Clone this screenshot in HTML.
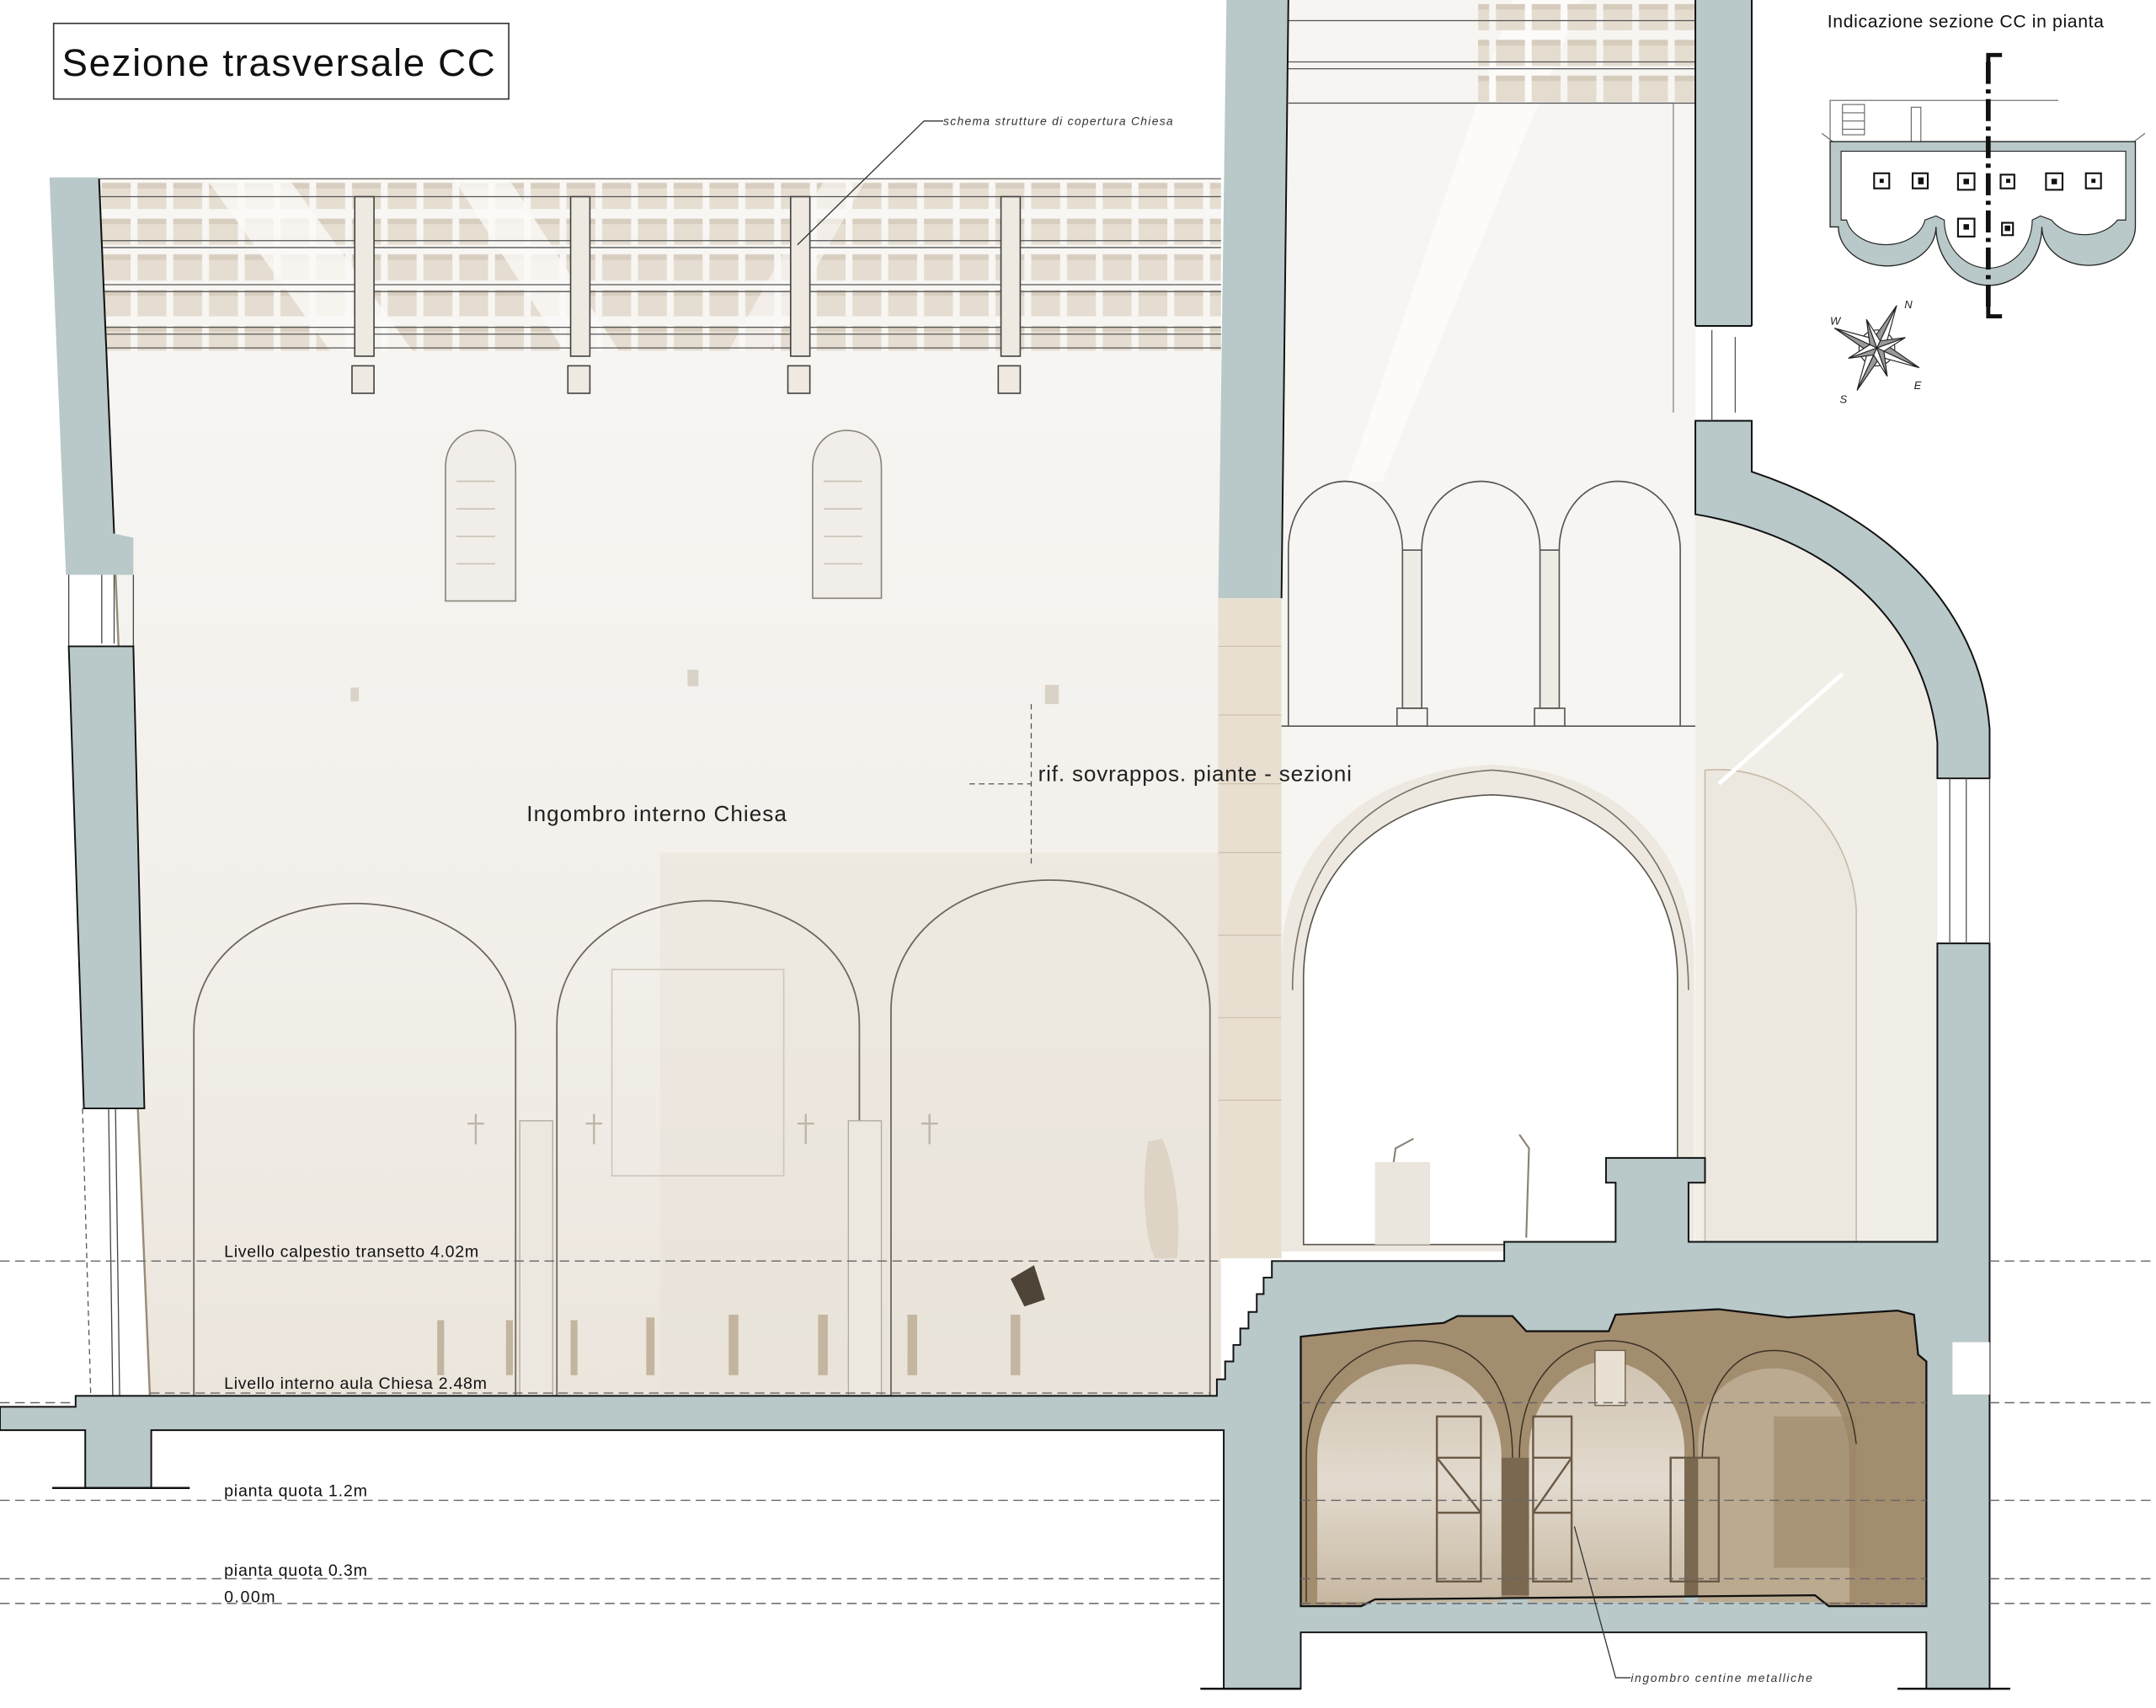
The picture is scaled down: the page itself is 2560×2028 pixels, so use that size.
<!DOCTYPE html>
<html><head><meta charset="utf-8"><style>
html,body{margin:0;padding:0;background:#fff;}
svg{display:block;}
text{font-family:"Liberation Sans",sans-serif;}
</style></head><body>
<svg width="2560" height="2028" viewBox="0 0 1568 1242" preserveAspectRatio="none" xmlns="http://www.w3.org/2000/svg">
<defs>
<pattern id="tiles" x="72" y="130" width="26" height="26" patternUnits="userSpaceOnUse">
<rect x="2" y="3" width="21" height="19" fill="#e2d9cb"/>
<rect x="2" y="3" width="21" height="4" fill="#d2c7b6"/>
</pattern>
<linearGradient id="church" x1="0" y1="0" x2="0" y2="1">
<stop offset="0" stop-color="#f8f7f4"/><stop offset="0.6" stop-color="#f3f0eb"/><stop offset="1" stop-color="#ebe5dc"/>
</linearGradient>
<linearGradient id="cryptIn" x1="0" y1="0" x2="0" y2="1">
<stop offset="0" stop-color="#cfc3b1"/><stop offset="0.5" stop-color="#e3dbcf"/><stop offset="1" stop-color="#c7b8a2"/>
</linearGradient>
</defs>

<!-- church interior -->
<polygon points="72,130 888,130 888,1015 109,1015" fill="url(#church)"/>
<rect x="480" y="620" width="408" height="395" fill="#e7e0d5" opacity="0.45"/>
<rect x="445" y="705" width="125" height="150" fill="none" stroke="#cfc7bb" stroke-width="1"/>
<rect x="72" y="130" width="816" height="125" fill="url(#tiles)" opacity="0.85"/>
<polygon points="150,130 210,130 300,255 240,255" fill="#fbfaf8" opacity="0.8"/>
<polygon points="330,130 370,130 450,255 410,255" fill="#fbfaf8" opacity="0.8"/>
<polygon points="600,130 630,130 560,255 530,255" fill="#fbfaf8" opacity="0.6"/>
<g stroke="#555" stroke-width="0.8">
<line x1="72" y1="130" x2="888" y2="130"/>
<line x1="72" y1="143" x2="888" y2="143"/>
<line x1="72" y1="175" x2="888" y2="175"/>
<line x1="72" y1="180" x2="888" y2="180"/>
<line x1="72" y1="207" x2="888" y2="207"/>
<line x1="72" y1="212" x2="888" y2="212"/>
<line x1="72" y1="238" x2="888" y2="238"/>
<line x1="72" y1="243" x2="888" y2="243"/>
<line x1="72" y1="253" x2="888" y2="253"/>
</g>
<g fill="#eee9e1" stroke="#444" stroke-width="1">
<rect x="258" y="143" width="14" height="116"/><rect x="256" y="266" width="16" height="20"/>
<rect x="415" y="143" width="14" height="116"/><rect x="413" y="266" width="16" height="20"/>
<rect x="575" y="143" width="14" height="116"/><rect x="573" y="266" width="16" height="20"/>
<rect x="728" y="143" width="14" height="116"/><rect x="726" y="266" width="16" height="20"/>
</g>
<!-- windows -->
<g fill="#f1eee9" stroke="#8a847a" stroke-width="1">
<path d="M324,437 L324,340 C324,322 336,313 349,313 C362,313 375,322 375,340 L375,437 Z"/>
<path d="M591,435 L591,340 C591,322 603,313 616,313 C629,313 641,322 641,340 L641,435 Z"/>
</g>
<g stroke="#c9c2b6" stroke-width="1">
<line x1="332" y1="350" x2="360" y2="350"/><line x1="332" y1="370" x2="360" y2="370"/><line x1="332" y1="390" x2="360" y2="390"/><line x1="332" y1="410" x2="360" y2="410"/>
<line x1="599" y1="350" x2="627" y2="350"/><line x1="599" y1="370" x2="627" y2="370"/><line x1="599" y1="390" x2="627" y2="390"/><line x1="599" y1="410" x2="627" y2="410"/>
</g>
<g fill="#d9d2c6"><rect x="255" y="500" width="6" height="10"/><rect x="500" y="487" width="8" height="12"/><rect x="760" y="498" width="10" height="14"/></g>
<!-- big arches -->
<g fill="none" stroke="#6d675e" stroke-width="1.1">
<path d="M141,1015 L141,750 C141,690 200,657 258,657 C316,657 375,690 375,750 L375,1015"/>
<path d="M405,1015 L405,745 C405,688 460,655 515,655 C570,655 625,688 625,745 L625,1015"/>
<path d="M648,1015 L648,735 C648,675 705,640 764,640 C823,640 880,675 880,735 L880,1015"/>
</g>
<g fill="#ece7df" stroke="#b0a99d" stroke-width="0.8">
<rect x="378" y="815" width="24" height="200"/>
<rect x="617" y="815" width="24" height="200"/>
</g>
<g stroke="#bdb5a8" stroke-width="1.5">
<line x1="346" y1="810" x2="346" y2="832"/><line x1="340" y1="817" x2="352" y2="817"/>
<line x1="432" y1="810" x2="432" y2="832"/><line x1="426" y1="817" x2="438" y2="817"/>
<line x1="586" y1="810" x2="586" y2="832"/><line x1="580" y1="817" x2="592" y2="817"/>
<line x1="676" y1="810" x2="676" y2="832"/><line x1="670" y1="817" x2="682" y2="817"/>
</g>
<!-- pews -->
<g fill="#b9a990" opacity="0.8">
<rect x="318" y="960" width="5" height="40"/><rect x="368" y="960" width="5" height="40"/><rect x="415" y="960" width="5" height="40"/><rect x="470" y="958" width="6" height="42"/><rect x="530" y="956" width="7" height="44"/><rect x="595" y="956" width="7" height="44"/><rect x="660" y="956" width="7" height="44"/><rect x="735" y="956" width="7" height="44"/>
</g>
<path d="M835,830 C830,860 832,900 840,915 L856,915 C860,880 852,840 845,828 Z" fill="#ddd4c6"/>
<path d="M735,930 L752,920 L760,945 L745,950 Z" fill="#4e4438"/>
<!-- left inner lines -->
<line x1="60" y1="806" x2="66" y2="1015" stroke="#555" stroke-width="0.8" stroke-dasharray="4,3"/>
<line x1="79" y1="806" x2="82" y2="1015" stroke="#444" stroke-width="0.8"/>
<line x1="84" y1="806" x2="87" y2="1015" stroke="#444" stroke-width="0.8"/>
<line x1="72" y1="130" x2="109" y2="1015" stroke="#9a8c78" stroke-width="1.5"/>
<g stroke="#444" stroke-width="0.8" fill="none">
<line x1="50" y1="418" x2="50" y2="470"/><line x1="74" y1="418" x2="74" y2="468"/><line x1="83" y1="418" x2="83" y2="468"/><line x1="97" y1="418" x2="97" y2="470"/>
</g>

<!-- transept strip -->
<rect x="886" y="435" width="46" height="480" fill="#e8dfd1"/>
<g stroke="#cdbfa9" stroke-width="0.7">
<line x1="886" y1="470" x2="932" y2="470"/><line x1="886" y1="520" x2="932" y2="520"/><line x1="886" y1="570" x2="932" y2="570"/><line x1="886" y1="620" x2="932" y2="620"/><line x1="886" y1="680" x2="932" y2="680"/><line x1="886" y1="740" x2="932" y2="740"/><line x1="886" y1="800" x2="932" y2="800"/>
</g>
<!-- tower interior -->
<rect x="932" y="0" width="301" height="910" fill="#f7f5f1"/>
<polygon points="1100,0 1150,0 1005,350 980,350" fill="#fcfbf9"/>
<rect x="1075" y="0" width="158" height="75" fill="url(#tiles)" opacity="0.9"/>
<g stroke="#555" stroke-width="0.8">
<line x1="937" y1="15" x2="1233" y2="15"/><line x1="937" y1="45" x2="1233" y2="45"/><line x1="937" y1="50" x2="1233" y2="50"/><line x1="937" y1="75" x2="1233" y2="75"/>
</g>
<line x1="1217" y1="75" x2="1217" y2="300" stroke="#777" stroke-width="0.7"/>
<!-- arcade -->
<g fill="none" stroke="#555" stroke-width="1">
<path d="M937,528 L937,400 C937,370 956,350 978,350 C1000,350 1020,370 1020,400"/>
<path d="M1034,400 C1034,370 1054,350 1077,350 C1100,350 1120,370 1120,400"/>
<path d="M1134,400 C1134,370 1154,350 1177,350 C1200,350 1222,370 1222,400 L1222,528"/>
<rect x="1020" y="400" width="14" height="115" fill="#efebe5"/><rect x="1016" y="515" width="22" height="13"/>
<rect x="1120" y="400" width="14" height="115" fill="#efebe5"/><rect x="1116" y="515" width="22" height="13"/>
<line x1="932" y1="528" x2="1233" y2="528"/>
</g>
<!-- big tower arch -->
<path d="M932,910 L932,700 C932,610 1000,560 1085,556 C1170,560 1232,610 1232,700 L1232,910 Z" fill="#ede8e0"/>
<path d="M948,905 L948,712 C948,630 1010,580 1085,578 C1160,580 1220,630 1220,712 L1220,905 Z" fill="#ffffff" stroke="#5a554d" stroke-width="1"/>
<path d="M940,720 C940,620 1005,565 1085,560 C1165,565 1228,620 1228,720" fill="none" stroke="#7a7368" stroke-width="1"/>
<g stroke="#8a8173" stroke-width="1.3" fill="none"><path d="M1010,870 L1015,835 L1028,828"/><path d="M1110,900 L1112,835 L1105,825"/></g>
<rect x="1000" y="845" width="40" height="60" fill="#eae5dd"/>
<!-- apse interior -->
<path d="M1233,374 C1330,390 1400,450 1409,540 L1409,903 L1233,903 Z" fill="#f1ede7"/>
<path d="M1240,560 C1300,555 1345,600 1350,660 L1350,903 L1240,903 Z" fill="#ece7df" stroke="#c6bba9" stroke-width="1"/>
<line x1="1250" y1="570" x2="1340" y2="490" stroke="#fff" stroke-width="3"/>

<!-- walls -->
<g fill="#b9c8c8" stroke="#111" stroke-width="1.2" stroke-linejoin="miter">
<path d="M0,1023 L55,1023 L55,1015 L885,1015 L885,1003 L891,1003 L891,990 L897,990 L897,978 L902,978 L902,966 L908,966 L908,954 L914,954 L914,941 L919,941 L919,929 L925,929 L925,917 L1094,917 L1094,903 L1175,903 L1175,860 L1168,860 L1168,842 L1240,842 L1240,860 L1228,860 L1228,903 L1409,903 L1409,686 L1447,686 L1447,1228 L1401,1228 L1401,1187 L946,1187 L946,1228 L890,1228 L890,1040 L110,1040 L110,1082 L62,1082 L62,1040 L0,1040 Z"/>
<path d="M36,129 L72,129 L83,388 L97,391 L97,418 L48,418 Z" stroke="none"/>
<path d="M50,470 L97,470 L105,806 L61,806 Z"/>
<path d="M892,0 L937,0 L932,435 L886,435 Z" stroke="none"/>
<path d="M1233,0 L1274,0 L1274,237 L1233,237 Z" stroke="none"/>
<path d="M1233,306 L1274,306 L1274,343 C1370,375 1440,440 1447,530 L1447,566 L1409,566 L1409,540 C1400,450 1330,390 1233,374 Z"/>
</g>

<!-- crypt (on top of slab) -->
<path d="M946,972 L1000,966 L1050,962 L1060,957 L1100,957 L1110,968 L1170,968 L1175,956 L1250,952 L1300,958 L1380,953 L1392,956 L1395,985 L1401,990 L1401,1168 L1330,1168 L1320,1160 L1000,1163 L990,1168 L946,1168 Z" fill="#a38d6f"/>
<path d="M958,1165 L958,1060 C958,1018 990,992 1026,992 C1062,992 1092,1018 1092,1060 L1092,1165 Z" fill="url(#cryptIn)"/>
<path d="M1112,1165 L1112,1055 C1112,1015 1145,990 1168,990 C1195,990 1225,1015 1225,1055 L1225,1165 Z" fill="url(#cryptIn)"/>
<path d="M1235,1165 L1235,1050 C1235,1015 1262,995 1290,995 C1320,995 1345,1020 1345,1060 L1345,1165 Z" fill="#bcaa90"/>
<rect x="1290" y="1030" width="60" height="110" fill="#9b8566" opacity="0.6"/>
<g fill="none" stroke="#3a3024" stroke-width="0.9">
<path d="M950,1165 L950,1060 C950,1005 990,975 1030,975 C1075,975 1100,1005 1100,1060"/>
<path d="M1105,1060 C1105,1005 1135,975 1170,975 C1210,975 1232,1005 1232,1060"/>
<path d="M1238,1060 C1240,1005 1262,982 1290,982 C1320,982 1345,1005 1350,1050"/>
</g>
<g fill="#7a6850"><rect x="1092" y="1060" width="20" height="100"/><rect x="1225" y="1060" width="10" height="100"/></g>
<g fill="none" stroke="#6b5a45" stroke-width="1.5">
<rect x="1045" y="1030" width="32" height="120"/><rect x="1115" y="1030" width="28" height="120"/>
<line x1="1045" y1="1060" x2="1077" y2="1060"/><line x1="1045" y1="1100" x2="1077" y2="1100"/><line x1="1115" y1="1060" x2="1143" y2="1060"/><line x1="1115" y1="1100" x2="1143" y2="1100"/>
<line x1="1045" y1="1060" x2="1077" y2="1100"/><line x1="1143" y1="1060" x2="1115" y2="1100"/>
<rect x="1215" y="1060" width="35" height="90"/>
</g>
<rect x="1160" y="982" width="22" height="40" fill="#e8e0d2" stroke="#6b5a45" stroke-width="0.8"/>
<path d="M946,972 L1000,966 L1050,962 L1060,957 L1100,957 L1110,968 L1170,968 L1175,956 L1250,952 L1300,958 L1380,953 L1392,956 L1395,985 L1401,990 L1401,1168 L1330,1168 L1320,1160 L1000,1163 L990,1168 L946,1168 Z" fill="none" stroke="#111" stroke-width="1.4"/>
<rect x="1420" y="976" width="27" height="38" fill="#fff"/>

<!-- dashed level lines -->
<g stroke="#666" stroke-width="0.9" stroke-dasharray="7,4" fill="none">
<line x1="0" y1="917" x2="886" y2="917"/><line x1="1447" y1="917" x2="1568" y2="917"/>
<line x1="0" y1="1020" x2="55" y2="1020"/><line x1="1447" y1="1020" x2="1568" y2="1020"/>
<line x1="946" y1="1020" x2="1401" y2="1020"/>
<line x1="0" y1="1091" x2="890" y2="1091"/><line x1="946" y1="1091" x2="1401" y2="1091"/><line x1="1447" y1="1091" x2="1568" y2="1091"/>
<line x1="0" y1="1148" x2="890" y2="1148"/><line x1="946" y1="1148" x2="1401" y2="1148"/><line x1="1447" y1="1148" x2="1568" y2="1148"/>
<line x1="0" y1="1166" x2="890" y2="1166"/><line x1="946" y1="1166" x2="1401" y2="1166"/><line x1="1447" y1="1166" x2="1568" y2="1166"/>
<line x1="109" y1="1013" x2="880" y2="1013"/>
</g>

<g stroke="#111" stroke-width="1.2" fill="none">
<line x1="937" y1="0" x2="932" y2="435"/>
<line x1="1233" y1="0" x2="1233" y2="237"/>
<line x1="1274" y1="0" x2="1274" y2="237"/>
<line x1="1233" y1="237" x2="1274" y2="237"/>
<line x1="83" y1="388" x2="72" y2="130"/>
</g>
<g stroke="#555" stroke-width="0.8"><line x1="1245" y1="240" x2="1245" y2="306"/><line x1="1262" y1="245" x2="1262" y2="300"/><line x1="1418" y1="566" x2="1418" y2="686"/><line x1="1430" y1="566" x2="1430" y2="686"/><line x1="1447" y1="566" x2="1447" y2="686"/></g>
<!-- ground lines -->
<g stroke="#111" stroke-width="1.5">
<line x1="38" y1="1082" x2="138" y2="1082"/>
<line x1="873" y1="1228" x2="946" y2="1228"/>
<line x1="1380" y1="1228" x2="1462" y2="1228"/>
</g>

<!-- title -->
<rect x="39" y="17" width="331" height="55" fill="#fff" stroke="#333" stroke-width="1"/>
<text x="45" y="55" font-size="28" fill="#111" textLength="315">Sezione trasversale CC</text>

<!-- labels -->
<text x="383" y="597" font-size="16" fill="#222" textLength="189">Ingombro interno Chiesa</text>
<text x="755" y="568" font-size="16" fill="#222" textLength="228">rif. sovrappos. piante - sezioni</text>
<g stroke="#555" stroke-width="0.8" stroke-dasharray="4,3"><line x1="750" y1="512" x2="750" y2="628"/><line x1="705" y1="570" x2="750" y2="570"/></g>
<text x="686" y="91" font-size="8.5" font-style="italic" fill="#333" textLength="167">schema strutture di copertura Chiesa</text>
<polyline points="686,88 672,88 580,178" fill="none" stroke="#333" stroke-width="0.8"/>
<text x="1186" y="1223" font-size="8.5" font-style="italic" fill="#333" textLength="132">ingombro centine metalliche</text>
<polyline points="1186,1220 1175,1220 1145,1110" fill="none" stroke="#333" stroke-width="0.8"/>
<g font-size="12" fill="#111">
<text x="163" y="914" textLength="185">Livello calpestio transetto 4.02m</text>
<text x="163" y="1010" textLength="191">Livello interno aula Chiesa 2.48m</text>
<text x="163" y="1088" textLength="104">pianta quota 1.2m</text>
<text x="163" y="1146" textLength="104">pianta quota 0.3m</text>
<text x="163" y="1165" textLength="37">0.00m</text>
</g>

<!-- plan indicator -->
<text x="1329" y="20" font-size="13" fill="#111" textLength="201">Indicazione sezione CC in pianta</text>
<g fill="none" stroke="#666" stroke-width="0.7">
<polyline points="1331,103 1331,73 1497,73"/>
<rect x="1340" y="76" width="16" height="22"/>
<line x1="1340" y1="82" x2="1356" y2="82"/><line x1="1340" y1="88" x2="1356" y2="88"/><line x1="1340" y1="94" x2="1356" y2="94"/>
<polyline points="1390,103 1390,78 1397,78 1397,103"/>
<line x1="1325" y1="97" x2="1337" y2="106"/><line x1="1548" y1="106" x2="1560" y2="97"/>
</g>
<g fill="#b9c8c8" stroke="#222" stroke-width="0.8">
<path d="M1331,103 L1553,103 L1553,165 A34,28 0 0 1 1485,165 A38,42 0 0 1 1408,165 A35,28 0 0 1 1337,165 L1331,165 Z"/>
</g>
<g fill="#fff" stroke="#222" stroke-width="0.7">
<path d="M1339,110 L1546,110 L1546,160 L1540,160 A28,22 0 0 1 1492,160 L1484,157 L1478,160 A32,35 0 0 1 1414,160 L1408,157 L1400,160 A29,22 0 0 1 1343,160 L1339,160 Z"/>
</g>
<g fill="#fff" stroke="#111" stroke-width="1.3">
<rect x="1363" y="126" width="11" height="11"/><rect x="1391" y="126" width="11" height="11"/><rect x="1424" y="126" width="12" height="12"/><rect x="1455" y="127" width="10" height="10"/><rect x="1488" y="126" width="12" height="12"/><rect x="1517" y="126" width="11" height="11"/>
<rect x="1424" y="159" width="12" height="13"/><rect x="1456" y="162" width="8" height="9"/>
</g>
<g fill="#111"><rect x="1367" y="130" width="3" height="3"/><rect x="1395" y="129" width="4" height="5"/><rect x="1428" y="130" width="4" height="4"/><rect x="1459" y="130" width="3" height="3"/><rect x="1492" y="130" width="4" height="4"/><rect x="1521" y="130" width="3" height="3"/><rect x="1428" y="163" width="4" height="4"/><rect x="1458" y="164" width="4" height="4"/></g>
<line x1="1446" y1="45" x2="1446" y2="224" stroke="#111" stroke-width="3.5" stroke-dasharray="16,4,3,4"/>
<polyline points="1446,52 1446,40 1456,40" fill="none" stroke="#111" stroke-width="3"/>
<polyline points="1446,218 1446,230 1456,230" fill="none" stroke="#111" stroke-width="3"/>
<!-- compass -->
<g transform="translate(1365,253) rotate(25)" stroke="#222" stroke-width="0.7">
<circle r="13" fill="none"/>
<polygon points="0,-34 5,-5 0,0" fill="#fff"/><polygon points="0,-34 -5,-5 0,0" fill="#999"/>
<polygon points="0,34 5,5 0,0" fill="#999"/><polygon points="0,34 -5,5 0,0" fill="#fff"/>
<polygon points="34,0 5,5 0,0" fill="#fff"/><polygon points="34,0 5,-5 0,0" fill="#999"/>
<polygon points="-34,0 -5,5 0,0" fill="#999"/><polygon points="-34,0 -5,-5 0,0" fill="#fff"/>
<g transform="rotate(45)">
<polygon points="0,-22 4,-4 0,0" fill="#fff"/><polygon points="0,-22 -4,-4 0,0" fill="#999"/>
<polygon points="0,22 4,4 0,0" fill="#999"/><polygon points="0,22 -4,4 0,0" fill="#fff"/>
<polygon points="22,0 4,4 0,0" fill="#fff"/><polygon points="22,0 4,-4 0,0" fill="#999"/>
<polygon points="-22,0 -4,4 0,0" fill="#999"/><polygon points="-22,0 -4,-4 0,0" fill="#fff"/>
</g>
</g>
<g font-size="8" fill="#222" font-style="italic">
<text x="1331" y="236">W</text><text x="1385" y="224">N</text><text x="1392" y="283">E</text><text x="1338" y="293">S</text>
</g>
</svg>
</body></html>
